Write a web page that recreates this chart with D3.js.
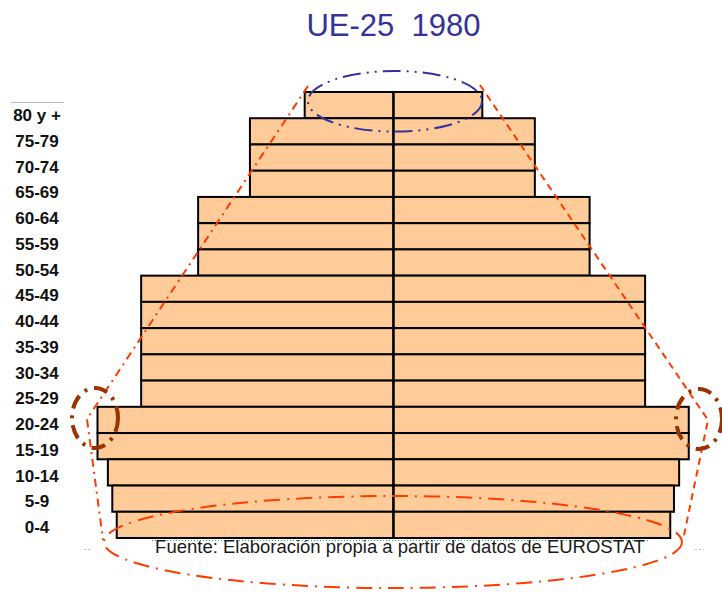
<!DOCTYPE html>
<html>
<head>
<meta charset="utf-8">
<script src="https://cdn.jsdelivr.net/npm/d3@7"></script>
<style>
  html, body { margin: 0; padding: 0; background: #fff; }
  svg { display: block; }
</style>
</head>
<body>
<div id="chart"></div>
<script>
// Age groups, top of the pyramid first
const ages = ["80 y +", "75-79", "70-74", "65-69", "60-64", "55-59", "50-54", "45-49",
  "40-44", "35-39", "30-34", "25-29", "20-24", "15-19", "10-14", "5-9", "0-4"];

// Share of population (%)
const men = [1.2, 1.94, 1.94, 1.94, 2.64, 2.64, 2.64, 3.41, 3.41, 3.41, 3.41, 3.41,
  4.0, 4.0, 3.86, 3.8, 3.74];
const women = [1.2, 1.91, 1.91, 1.91, 2.65, 2.65, 2.65, 3.4, 3.4, 3.4, 3.4, 3.4,
  3.99, 3.99, 3.86, 3.79, 3.74];

const title = "UE-25  1980";
const source = "Fuente: Elaboración propia a partir de datos de EUROSTAT";

const width = 722;
const height = 592;
const cx = 393.5; // centre of pyramid

const svg = d3
  .select("#chart")
  .append("svg")
  .attr("width", width)
  .attr("height", height);

// Scales
const x = d3.scaleLinear().domain([0, 4]).range([0, 296]);
const y = d3.scaleBand().domain(ages).range([92, 538]).padding(0);
const yLabel = d3.scalePoint().domain(ages).range([115, 527]);

// Title
svg
  .append("text")
  .attr("x", cx)
  .attr("y", 36)
  .attr("text-anchor", "middle")
  .style("white-space", "pre")
  .attr("xml:space", "preserve")
  .attr("font-family", "Liberation Sans, Arial, sans-serif")
  .attr("font-size", 31)
  .attr("fill", "#333399")
  .text(title);

// Left label column
svg
  .append("line")
  .attr("x1", 11)
  .attr("x2", 64)
  .attr("y1", 102.5)
  .attr("y2", 102.5)
  .attr("stroke", "#bbbbbb")
  .attr("stroke-width", 1);

svg
  .append("g")
  .selectAll("text")
  .data(ages)
  .enter()
  .append("text")
  .attr("x", 37)
  .attr("y", (d) => yLabel(d) + 6)
  .attr("text-anchor", "middle")
  .style("white-space", "pre")
  .attr("font-family", "Liberation Sans, Arial, sans-serif")
  .attr("font-weight", "bold")
  .attr("font-size", 17)
  .attr("fill", "#111")
  .text((d) => d);

// Bars
const bars = svg.append("g").attr("stroke", "#000").attr("stroke-width", 2).attr("fill", "#ffcc99");

bars
  .selectAll(".men")
  .data(ages)
  .enter()
  .append("rect")
  .attr("class", "men")
  .attr("x", (d, i) => cx - x(men[i]))
  .attr("y", (d) => y(d))
  .attr("width", (d, i) => x(men[i]))
  .attr("height", y.bandwidth());

bars
  .selectAll(".women")
  .data(ages)
  .enter()
  .append("rect")
  .attr("class", "women")
  .attr("x", cx)
  .attr("y", (d) => y(d))
  .attr("width", (d, i) => x(women[i]))
  .attr("height", y.bandwidth());

// centre line
svg
  .append("line")
  .attr("x1", cx)
  .attr("x2", cx)
  .attr("y1", y.range()[0])
  .attr("y2", y.range()[1])
  .attr("stroke", "#000")
  .attr("stroke-width", 2);

// green dotted base line
svg
  .append("line")
  .attr("x1", 152)
  .attr("x2", 648)
  .attr("y1", 540.5)
  .attr("y2", 540.5)
  .attr("stroke", "#33aa33")
  .attr("stroke-width", 1)
  .attr("stroke-dasharray", "1,2");

// tiny grey marks
[[84, 92], [695, 703]].forEach((p) => {
  svg
    .append("line")
    .attr("x1", p[0])
    .attr("x2", p[1])
    .attr("y1", 549.5)
    .attr("y2", 549.5)
    .attr("stroke", "#bbbbbb")
    .attr("stroke-width", 1)
    .attr("stroke-dasharray", "2,2");
});

// Source
svg
  .append("text")
  .attr("x", 400)
  .attr("y", 553)
  .attr("text-anchor", "middle")
  .attr("font-family", "Liberation Sans, Arial, sans-serif")
  .attr("font-size", 18.5)
  .attr("fill", "#1a1a1a")
  .text(source);

// Annotations
const red = "#ff3c00";
const ann = svg.append("g").attr("fill", "none");

// top ellipse
ann
  .append("ellipse")
  .attr("cx", 395)
  .attr("cy", 101.3)
  .attr("rx", 87)
  .attr("ry", 30.3)
  .attr("stroke", "#333399")
  .attr("stroke-width", 2)
  .attr("stroke-dasharray", "18,6,2,6,2,6");

// bottom ellipse
ann
  .append("ellipse")
  .attr("cx", 393)
  .attr("cy", 542)
  .attr("rx", 289)
  .attr("ry", 46)
  .attr("stroke", red)
  .attr("stroke-width", 2)
  .attr("stroke-dasharray", "16,7,2,7");

// side lines
const line = d3.line();
ann
  .append("path")
  .attr("d", line([[308, 86], [87, 419], [103, 540]]))
  .attr("stroke", red)
  .attr("stroke-width", 2)
  .attr("stroke-dasharray", "8,5,2,5");

ann
  .append("path")
  .attr("d", line([[480, 85], [708, 420], [683, 540]]))
  .attr("stroke", red)
  .attr("stroke-width", 2)
  .attr("stroke-dasharray", "7,5");

// brown circles
[[95, 418], [699, 419]].forEach((c) => {
  ann
    .append("ellipse")
    .attr("cx", c[0])
    .attr("cy", c[1])
    .attr("rx", 23)
    .attr("ry", 30)
    .attr("stroke", "#993300")
    .attr("stroke-width", 4)
    .attr("stroke-dasharray", "14,7,3,7");
});
</script>
</body>
</html>
